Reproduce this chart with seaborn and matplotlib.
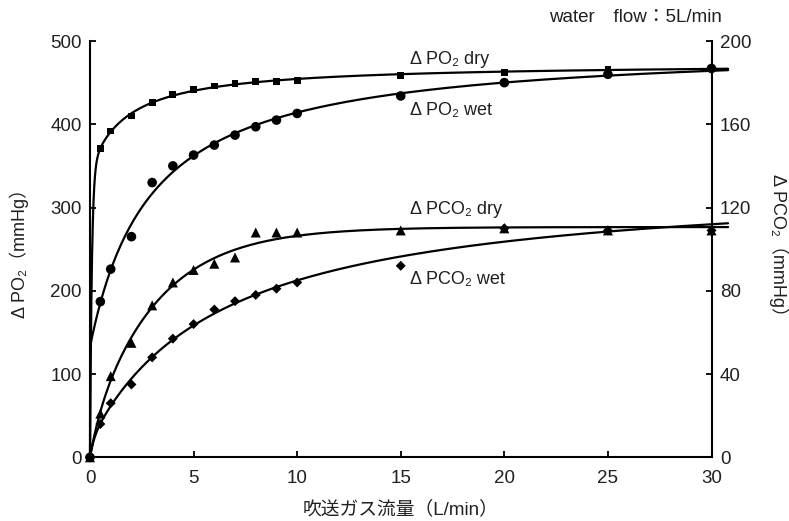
import numpy as np
import pandas as pd
import matplotlib
matplotlib.use("Agg")
import matplotlib.pyplot as plt
import seaborn as sns

# Gas flow through the oxygenator (L/min)
flow = [0, 0.5, 1, 2, 3, 4, 5, 6, 7, 8, 9, 10, 15, 20, 25, 30]

# Oxygen transfer, left axis (mmHg)
po2_dry = [0, 371, 392, 410, 426, 436, 442, 446, 449, 451, 451, 453, 459, 462, 466, 467]
po2_wet = [0, 187, 226, 265, 330, 350, 363, 375, 387, 397, 405, 413, 434, 450, 460, 467]

# Carbon dioxide removal, right axis (mmHg)
pco2_dry = [0, 21, 39, 55, 73, 84, 90, 93, 96, 108, 108, 108, 109, 110, 109, 109]
pco2_wet = [0, 16, 26, 35, 48, 57, 64, 71, 75, 78, 81, 84, 92, 110, 109, 109]

left_ticks = [0, 100, 200, 300, 400, 500]
right_ticks = [0, 40, 80, 120, 160, 200]
x_ticks = [0, 5, 10, 15, 20, 25, 30]

INK = "#231f20"
FAMILY = ["Liberation Sans", "Noto Sans CJK JP", "DejaVu Sans"]

sns.set_style("ticks")
plt.rcParams["font.family"] = FAMILY
plt.rcParams["text.color"] = INK
plt.rcParams["axes.labelcolor"] = INK
plt.rcParams["xtick.color"] = INK
plt.rcParams["ytick.color"] = INK


def _hyper(t, k):
    return t / (k + t)


def _expo(t, k):
    return 1.0 - np.exp(-t / k)


def saturation_fit(x, y):
    """Least-squares fit of a sum of two saturating terms (hyperbolic or exponential)."""
    x = np.asarray(x, float)
    y = np.asarray(y, float)
    best = None
    k_fast = np.logspace(-3, 0, 46)
    k_slow = np.logspace(-0.5, 1.7, 67)
    for f1 in (_hyper, _expo):
        for f2 in (_hyper, _expo):
            for k1 in k_fast:
                c1 = f1(x, k1)
                for k2 in k_slow:
                    if k2 <= k1:
                        continue
                    m = np.column_stack([c1, f2(x, k2)])
                    coef, *_ = np.linalg.lstsq(m, y, rcond=None)
                    if (coef < 0).any():
                        continue
                    err = ((m @ coef - y) ** 2).sum()
                    if best is None or err < best[0]:
                        best = (err, f1, k1, f2, k2, coef)
    _, f1, k1, f2, k2, (a, b) = best
    return lambda t: a * f1(t, k1) + b * f2(t, k2)


grid = np.concatenate([np.linspace(0, 1, 200), np.linspace(1, 30.8, 300)[1:]])


def curve_frame(values):
    f = saturation_fit(flow, values)
    return pd.DataFrame({"flow": grid, "value": f(grid)})


fig = plt.figure(figsize=(7.89, 5.21), dpi=100)
ax = fig.add_axes([90 / 789, (521 - 457.3) / 521, 621.5 / 789, 416.3 / 521])
ax2 = ax.twinx()

line_kw = dict(color="black", linewidth=1.6, estimator=None, sort=False, legend=False)

# Oxygen curves and markers
for vals, marker, size in [(po2_dry, "s", 24), (po2_wet, "o", 48)]:
    sns.lineplot(data=curve_frame(vals), x="flow", y="value", ax=ax, **line_kw)
    sns.scatterplot(x=flow, y=vals, ax=ax, marker=marker, s=size, color="black",
                    edgecolor="none", legend=False, zorder=3, clip_on=False)

# Carbon dioxide curves and markers
for vals, marker, size in [(pco2_dry, "^", 52), (pco2_wet, "D", 26)]:
    sns.lineplot(data=curve_frame(vals), x="flow", y="value", ax=ax2, **line_kw)
    sns.scatterplot(x=flow, y=vals, ax=ax2, marker=marker, s=size, color="black",
                    edgecolor="none", legend=False, zorder=3, clip_on=False)

for a in (ax, ax2):
    for ln in a.lines:
        ln.set_clip_on(False)

ax.set_xlim(0, 30)
ax.set_ylim(0, 500)
ax2.set_ylim(0, 200)
ax.set_xticks(x_ticks)
ax.set_yticks(left_ticks)
ax2.set_yticks(right_ticks)

ax.spines["top"].set_visible(False)
ax.spines["right"].set_visible(False)
for side in ("top", "left", "bottom"):
    ax2.spines[side].set_visible(False)
for sp in ("left", "bottom"):
    ax.spines[sp].set_linewidth(1.5)
    ax.spines[sp].set_color("black")
ax2.spines["right"].set_linewidth(1.5)
ax2.spines["right"].set_color("black")

ax.tick_params(axis="both", direction="in", length=4, width=1.3, labelsize=13.5, color="black")
ax.tick_params(axis="x", pad=9)
ax.tick_params(axis="y", pad=6)
ax2.tick_params(axis="y", direction="in", length=4, width=1.3, labelsize=13.5, pad=6, color="black")

ax.set_xlabel("吹送ガス流量（L/min）", fontsize=13.5, labelpad=10)
ax.set_ylabel("Δ PO₂（mmHg）", fontsize=13, labelpad=15)
ax2.set_ylabel("Δ PCO₂（mmHg）", fontsize=13, rotation=270, labelpad=27)

note = dict(fontsize=13, ha="left", va="center")
ax.text(15.45, 478, "Δ PO₂ dry", **note)
ax.text(15.45, 417, "Δ PO₂ wet", **note)
ax.text(15.45, 298, "Δ PCO₂ dry", **note)
ax.text(15.45, 213, "Δ PCO₂ wet", **note)

fig.text(722 / 789, 1 - 17 / 521, "water　flow：5L/min", fontsize=13.5, ha="right", va="center")

fig.savefig("out.png", dpi=100)
